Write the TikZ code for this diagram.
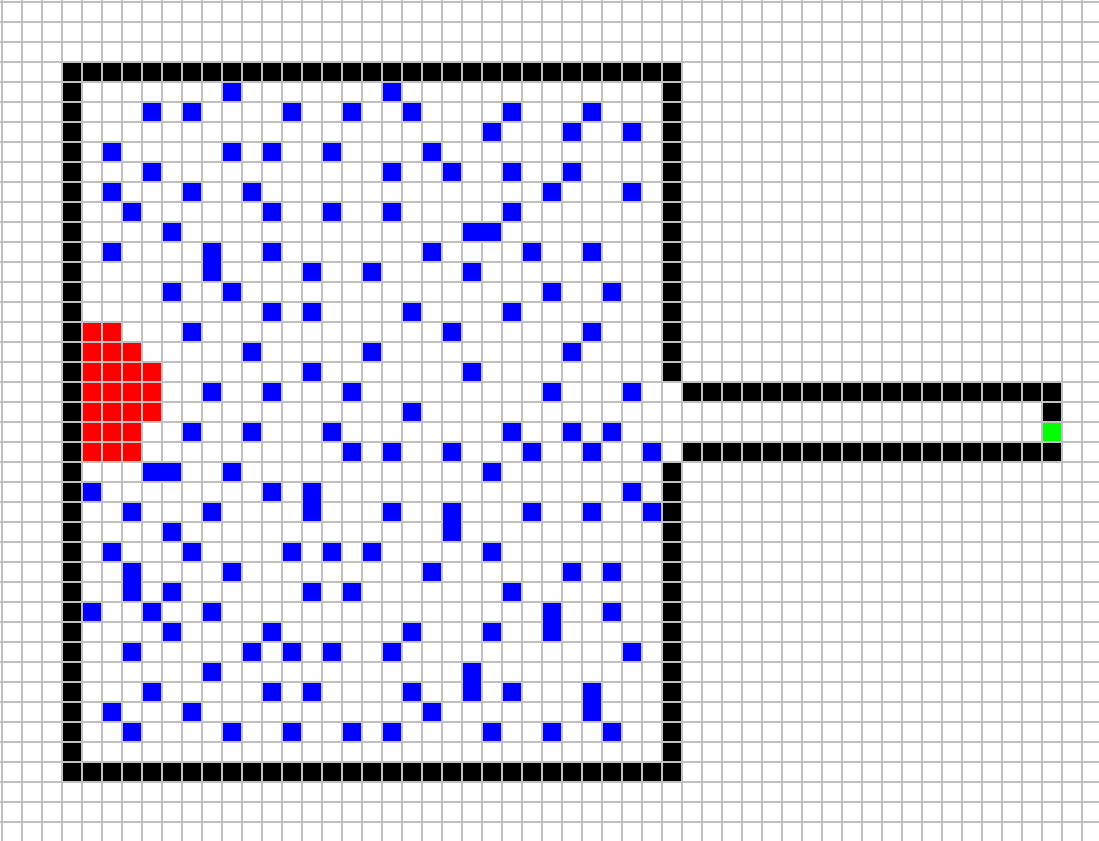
\documentclass[tikz,border=0pt]{standalone}
\definecolor{gridgray}{RGB}{192,192,192}
\definecolor{wallblack}{RGB}{0,0,0}
\definecolor{obstblue}{RGB}{0,0,255}
\definecolor{visitred}{RGB}{255,0,0}
\definecolor{goalgreen}{RGB}{0,255,0}
\newcommand{\gridcell}[3]{\fill[#1] ({2+20*#2},{2+20*#3}) rectangle ++(20,20);}
% obstacle block covering cells c1..c2 x r1..r2, drawn over the grid lines
\newcommand{\obstblock}[4]{\fill[obstblue] ({3+20*#1},{3+20*#2}) rectangle ({1+20*(#3+1)},{1+20*(#4+1)});}
\begin{document}
\begin{tikzpicture}[x=0.5pt,y=-0.5pt]
\tikzset{gridline/.style={draw=gridgray,line width=1pt}}
\useasboundingbox (0,0) rectangle (1099,841);
\fill[white] (0,0) rectangle (1099,841);
% walls of the main room
\foreach \c in {3,...,33} {\gridcell{wallblack}{\c}{3} \gridcell{wallblack}{\c}{38}}
\foreach \r in {3,...,38} {\gridcell{wallblack}{3}{\r}}
\foreach \r in {3,...,18} {\gridcell{wallblack}{33}{\r}}
\foreach \r in {23,...,38} {\gridcell{wallblack}{33}{\r}}
% corridor
\foreach \c in {34,...,52} {\gridcell{wallblack}{\c}{19} \gridcell{wallblack}{\c}{22}}
\gridcell{wallblack}{52}{20}
\gridcell{goalgreen}{52}{21}
% red region
\foreach \c in {4,5} {\gridcell{visitred}{\c}{16}}
\foreach \c in {4,5,6} {\gridcell{visitred}{\c}{17}}
\foreach \r in {18,19,20} {\foreach \c in {4,...,7} {\gridcell{visitred}{\c}{\r}}}
\foreach \r in {21,22} {\foreach \c in {4,5,6} {\gridcell{visitred}{\c}{\r}}}
% grid lines
\foreach \k in {0,...,54} {\draw[gridline] ({2+20*\k},0) -- ({2+20*\k},841);}
\foreach \k in {0,...,41} {\draw[gridline] (0,{2+20*\k}) -- (1099,{2+20*\k});}
% obstacles (drawn over the grid)
\foreach \c/\r in {11/4,19/4,
 7/5,9/5,14/5,17/5,20/5,25/5,29/5,
 24/6,28/6,31/6,
 5/7,11/7,13/7,16/7,21/7,
 7/8,19/8,22/8,25/8,28/8,
 5/9,9/9,12/9,27/9,31/9,
 6/10,13/10,16/10,19/10,25/10,
 8/11,23/11,24/11,
 5/12,10/12,13/12,21/12,26/12,29/12,
 10/13,15/13,18/13,23/13,
 8/14,11/14,27/14,30/14,
 13/15,15/15,20/15,25/15,
 9/16,22/16,29/16,
 12/17,18/17,28/17,
 15/18,23/18,
 10/19,13/19,17/19,27/19,31/19,
 20/20,
 9/21,12/21,16/21,25/21,28/21,30/21,
 17/22,19/22,22/22,26/22,29/22,32/22,
 7/23,8/23,11/23,24/23,
 4/24,13/24,15/24,31/24,
 6/25,10/25,15/25,19/25,22/25,26/25,29/25,32/25,
 8/26,22/26,
 5/27,9/27,14/27,16/27,18/27,24/27,
 6/28,11/28,21/28,28/28,30/28,
 6/29,8/29,15/29,17/29,25/29,
 4/30,7/30,10/30,27/30,30/30,
 8/31,13/31,20/31,24/31,27/31,
 6/32,12/32,14/32,16/32,19/32,31/32,
 10/33,23/33,
 7/34,13/34,15/34,20/34,23/34,25/34,29/34,
 5/35,9/35,21/35,29/35,
 6/36,11/36,14/36,17/36,19/36,24/36,27/36,30/36}
 {\obstblock{\c}{\r}{\c}{\r}}
% adjacent obstacles merge into one block
\obstblock{23}{11}{24}{11}
\obstblock{7}{23}{8}{23}
\obstblock{10}{12}{10}{13}
\obstblock{15}{24}{15}{25}
\obstblock{22}{25}{22}{26}
\obstblock{6}{28}{6}{29}
\obstblock{27}{30}{27}{31}
\obstblock{23}{33}{23}{34}
\obstblock{29}{34}{29}{35}
\end{tikzpicture}
\end{document}
